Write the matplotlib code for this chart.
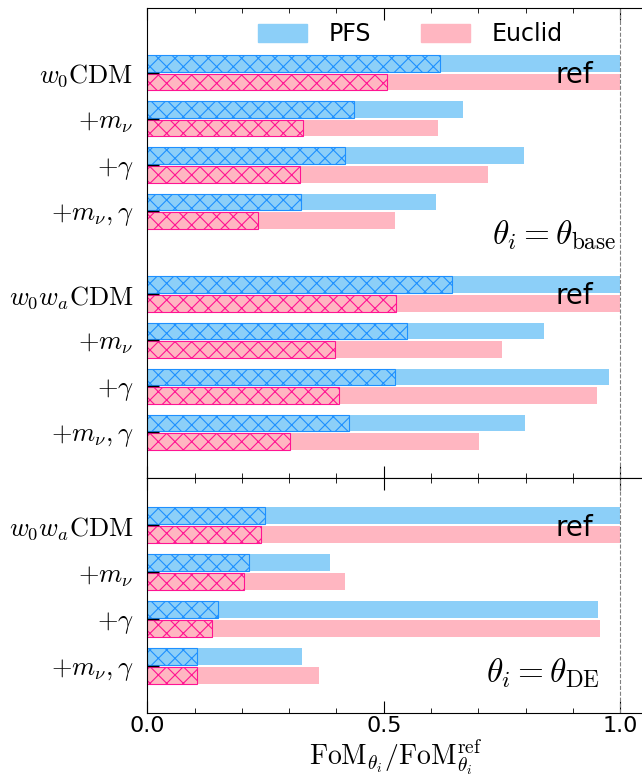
import numpy as np
import matplotlib
matplotlib.use('Agg')
import matplotlib.pyplot as plt
from matplotlib.ticker import MultipleLocator

plt.rcParams['mathtext.fontset'] = 'cm'
plt.rcParams['hatch.linewidth'] = 0.8

# labels
models_base = [r'$w_0\mathrm{CDM}$', r'$+m_\nu$', r'$+\gamma$', r'$+m_\nu,\gamma$',
               r'$w_0w_a\mathrm{CDM}$', r'$+m_\nu$', r'$+\gamma$', r'$+m_\nu,\gamma$']
models_de = [r'$w_0w_a\mathrm{CDM}$', r'$+m_\nu$', r'$+\gamma$', r'$+m_\nu,\gamma$']

# theta_i = theta_base  (full bar / hatched bar)
pfs_base = [1.0, 0.667, 0.796, 0.610, 1.0, 0.839, 0.976, 0.799]
pfs_base_h = [0.618, 0.438, 0.417, 0.324, 0.645, 0.550, 0.524, 0.426]
euc_base = [1.0, 0.614, 0.720, 0.524, 1.0, 0.750, 0.950, 0.701]
euc_base_h = [0.506, 0.329, 0.323, 0.234, 0.525, 0.396, 0.405, 0.302]

# theta_i = theta_DE
pfs_de = [1.0, 0.386, 0.953, 0.327]
pfs_de_h = [0.248, 0.216, 0.149, 0.106]
euc_de = [1.0, 0.417, 0.958, 0.363]
euc_de_h = [0.240, 0.204, 0.136, 0.106]

c_pfs, c_pfs_e = '#8ccff8', '#1e90ff'
c_euc, c_euc_e = '#ffb6c1', '#ff1493'
h = 0.36
off = 0.2

fig = plt.figure(figsize=(6.42, 7.79), dpi=100)
ax1 = fig.add_axes([0.2294, 0.386, 0.7736, 0.6033])
ax2 = fig.add_axes([0.2294, 0.0843, 0.7736, 0.3017])


def draw(ax, y, pfs, pfs_h, euc, euc_h, labels):
    ax.barh(y - off, pfs, height=h, color=c_pfs, lw=0)
    ax.barh(y + off, euc, height=h, color=c_euc, lw=0)
    ax.barh(y - off, pfs_h, height=h, facecolor='none', edgecolor=c_pfs_e, hatch='xx', lw=0.8)
    ax.barh(y + off, euc_h, height=h, facecolor='none', edgecolor=c_euc_e, hatch='xx', lw=0.8)
    ax.axvline(1.0, color='gray', ls='--', lw=0.8)
    ax.set_xlim(0, 1.05)
    ax.set_yticks(y)
    ax.set_yticklabels(labels, fontsize=19)
    ax.xaxis.set_major_locator(MultipleLocator(0.5))
    ax.xaxis.set_minor_locator(MultipleLocator(0.1))
    ax.tick_params(axis='x', which='both', direction='in', top=True, bottom=True)
    ax.tick_params(axis='x', which='major', length=8.5, labelsize=16, pad=2)
    ax.tick_params(axis='x', which='minor', length=3.5)
    ax.tick_params(axis='y', direction='in', length=8.5, width=1, pad=10, right=False)
    for s in ax.spines.values():
        s.set_linewidth(0.8)


y1 = np.array([0, 1, 2, 3, 4.8, 5.8, 6.8, 7.8])
draw(ax1, y1, pfs_base, pfs_base_h, euc_base, euc_base_h, models_base)
ax1.set_ylim(8.8, -1.4)
ax1.tick_params(axis='x', labelbottom=False)
ax1.text(0.942, y1[0] + 0.05, 'ref', fontsize=20, ha='right', va='center')
ax1.text(0.942, y1[4] + 0.05, 'ref', fontsize=20, ha='right', va='center')
ax1.text(0.993, 3.73, r'$\theta_i=\theta_\mathrm{base}$', fontsize=24, ha='right', va='baseline')
ax1.legend(handles=[plt.Rectangle((0, 0), 1, 1, color=c_pfs),
                    plt.Rectangle((0, 0), 1, 1, color=c_euc)],
           labels=['PFS', 'Euclid'],
           loc='upper left', bbox_to_anchor=(0.199, 0.996), ncol=2, frameon=False,
           fontsize=17, borderpad=0, handlelength=2.1, handleheight=0.8,
           handletextpad=0.9, columnspacing=2.1)

y2 = np.arange(4)
draw(ax2, y2, pfs_de, pfs_de_h, euc_de, euc_de_h, models_de)
ax2.set_ylim(4.0, -1.0)
ax2.set_xticks([0, 0.5, 1.0])
ax2.set_xticklabels(['0.0', '0.5', '1.0'])
ax2.text(0.942, y2[0] + 0.05, 'ref', fontsize=20, ha='right', va='center')
ax2.text(0.958, 3.33, r'$\theta_i=\theta_\mathrm{DE}$', fontsize=24, ha='right', va='baseline')
ax2.set_xlabel(r'$\mathrm{FoM}_{\theta_i}/\mathrm{FoM}_{\theta_i}^\mathrm{ref}$', fontsize=20, labelpad=1)

fig.savefig('out.png', dpi=100)
